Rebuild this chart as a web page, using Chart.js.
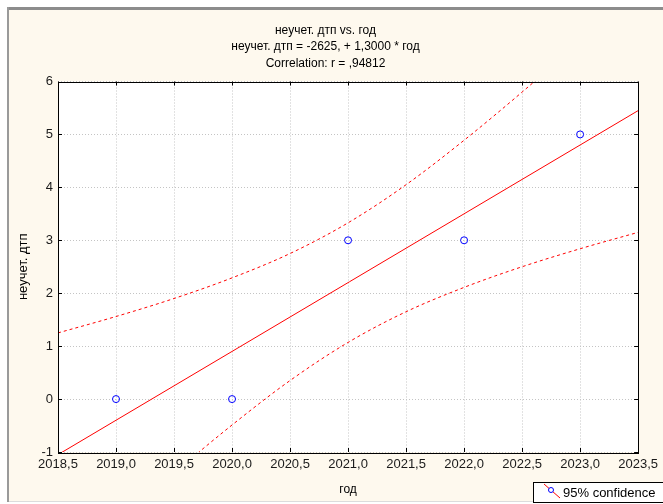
<!DOCTYPE html>
<html>
<head>
<meta charset="utf-8">
<script src="https://cdn.jsdelivr.net/npm/chart.js@4.4.1/dist/chart.umd.min.js"></script>
<style>
    body { margin: 0; background: #fff; }
    canvas { display: block; }
</style>
</head>
<body>
<canvas id="regChart" width="663" height="504"></canvas>
<script>
// Data
const years = [2019, 2020, 2021, 2022, 2023];
const accidents = [0, 0, 3, 3, 5];

// fitted line endpoints
const fitX = [2018.5, 2023.5];
const fitY = [-1.05, 5.45];

// 95% confidence band
const bandX = [2018.5, 2019.0, 2019.5, 2020.0, 2020.5, 2021.0, 2021.5, 2022.0, 2022.5, 2023.0, 2023.5];
const bandUpper = [1.25, 1.56, 1.90, 2.29, 2.75, 3.33, 4.05, 4.89, 5.80, 6.76, 7.75];
const bandLower = [-3.35, -2.36, -1.40, -0.49, 0.35, 1.07, 1.65, 2.11, 2.50, 2.84, 3.15];

const titleLines = ['неучет. дтп vs. год', 'неучет. дтп = -2625, + 1,3000 * год', 'Correlation: r = ,94812'];
const xTitle = 'год';
const yTitle = 'неучет. дтп';
const legendText = '95% confidence';

function toPoints(xs, ys) {
    return xs.map(function(x, i) { return { x: x, y: ys[i] }; });
}

Chart.defaults.font.family = '"Liberation Sans", Arial, sans-serif';
Chart.defaults.color = '#1a1a1a';

// Cream panel, white plot area, frame, inward ticks and legend box
const backdrop = {
    id: 'backdrop',
    beforeDraw: function(chart) {
        const c = chart.ctx;
        const a = chart.chartArea;
        c.save();
        c.fillStyle = '#ffffff';
        c.fillRect(0, 0, chart.width, chart.height);
        c.fillStyle = '#fef9ee';
        c.fillRect(9, 10, chart.width - 9, 491);
        c.fillStyle = '#8c8c8c';
        c.fillRect(7, 7, chart.width - 7, 3);
        c.fillStyle = '#9a9a9a';
        c.fillRect(7, 7, 2, 495);
        c.fillStyle = '#dcdcdc';
        c.fillRect(9, 501, chart.width - 9, 1);
        c.fillStyle = '#ffffff';
        c.fillRect(a.left, a.top, a.right - a.left, a.bottom - a.top);
        c.restore();
    },
    afterDraw: function(chart) {
        const c = chart.ctx;
        const a = chart.chartArea;
        const xs = chart.scales.x;
        const ys = chart.scales.y;
        c.save();
        c.strokeStyle = '#000';
        c.lineWidth = 1;
        c.strokeRect(Math.round(a.left) + 0.5, Math.round(a.top) + 0.5,
            Math.round(a.right - a.left), Math.round(a.bottom - a.top));
        // inward ticks
        c.beginPath();
        xs.ticks.forEach(function(t) {
            const px = Math.round(xs.getPixelForValue(t.value)) + 0.5;
            c.moveTo(px, a.bottom); c.lineTo(px, a.bottom - 4);
            c.moveTo(px, a.top); c.lineTo(px, a.top + 4);
        });
        ys.ticks.forEach(function(t) {
            const py = Math.round(ys.getPixelForValue(t.value)) + 0.5;
            c.moveTo(a.left, py); c.lineTo(a.left + 4, py);
            c.moveTo(a.right, py); c.lineTo(a.right - 4, py);
        });
        c.stroke();

        // legend box
        c.fillStyle = '#ffffff';
        c.fillRect(533, 482, 140, 21);
        c.strokeStyle = '#000';
        c.strokeRect(533.5, 482.5, 140, 20);
        c.strokeStyle = '#ff0000';
        c.beginPath();
        c.moveTo(544, 484); c.lineTo(560, 498);
        c.stroke();
        c.strokeStyle = '#0000ff';
        c.fillStyle = '#ffffff';
        c.beginPath();
        c.arc(551, 490, 2.5, 0, Math.PI * 2);
        c.fill();
        c.stroke();
        c.fillStyle = '#000';
        c.font = '13px "Liberation Sans", Arial, sans-serif';
        c.textBaseline = 'middle';
        c.fillText(legendText, 563, 493);
        c.restore();
    }
};

const ctx = document.getElementById('regChart').getContext('2d');
const regChart = new Chart(ctx, {
    type: 'scatter',
    data: {
        datasets: [{
            label: 'upper',
            data: toPoints(bandX, bandUpper),
            showLine: true,
            borderColor: '#ff0000',
            borderWidth: 1,
            borderDash: [3, 3],
            pointRadius: 0,
            cubicInterpolationMode: 'monotone'
        }, {
            label: 'lower',
            data: toPoints(bandX, bandLower),
            showLine: true,
            borderColor: '#ff0000',
            borderWidth: 1,
            borderDash: [3, 3],
            pointRadius: 0,
            cubicInterpolationMode: 'monotone'
        }, {
            label: 'fit',
            data: toPoints(fitX, fitY),
            showLine: true,
            borderColor: '#ff0000',
            borderWidth: 1,
            pointRadius: 0
        }, {
            label: 'неучет. дтп',
            data: toPoints(years, accidents),
            pointRadius: 3.5,
            pointBorderWidth: 1,
            pointBorderColor: '#0000ff',
            pointBackgroundColor: 'rgba(255,255,255,0)',
            borderColor: '#0000ff',
            backgroundColor: 'rgba(255,255,255,0)'
        }]
    },
    options: {
        responsive: false,
        animation: false,
        layout: {
            padding: { top: 12, left: 12, right: 24, bottom: 3 }
        },
        plugins: {
            legend: { display: false },
            tooltip: { enabled: false },
            title: {
                display: true,
                text: titleLines,
                color: '#000',
                font: { size: 12, weight: 'normal', lineHeight: 1.375 },
                padding: { top: 10, bottom: 10 }
            }
        },
        scales: {
            x: {
                type: 'linear',
                min: 2018.5,
                max: 2023.5,
                afterFit: function(scale) { scale.height = 49; },
                ticks: {
                    stepSize: 0.5,
                    padding: 5,
                    maxRotation: 0,
                    font: { size: 13 },
                    callback: function(v) { return Number(v).toFixed(1).replace('.', ','); }
                },
                grid: { color: '#c4c4c4', drawTicks: false, borderDash: [1, 2] },
                border: { display: false, dash: [1, 2] },
                title: {
                    display: true,
                    text: xTitle,
                    color: '#000',
                    font: { size: 12 }
                }
            },
            y: {
                min: -1,
                max: 6,
                afterFit: function(scale) { scale.width = 46; },
                ticks: {
                    stepSize: 1,
                    padding: 5,
                    font: { size: 13 }
                },
                grid: { color: '#c4c4c4', drawTicks: false, borderDash: [1, 2] },
                border: { display: false, dash: [1, 2] },
                title: {
                    display: true,
                    text: yTitle,
                    color: '#000',
                    font: { size: 13 }
                }
            }
        }
    },
    plugins: [backdrop]
});
</script>
</body>
</html>
